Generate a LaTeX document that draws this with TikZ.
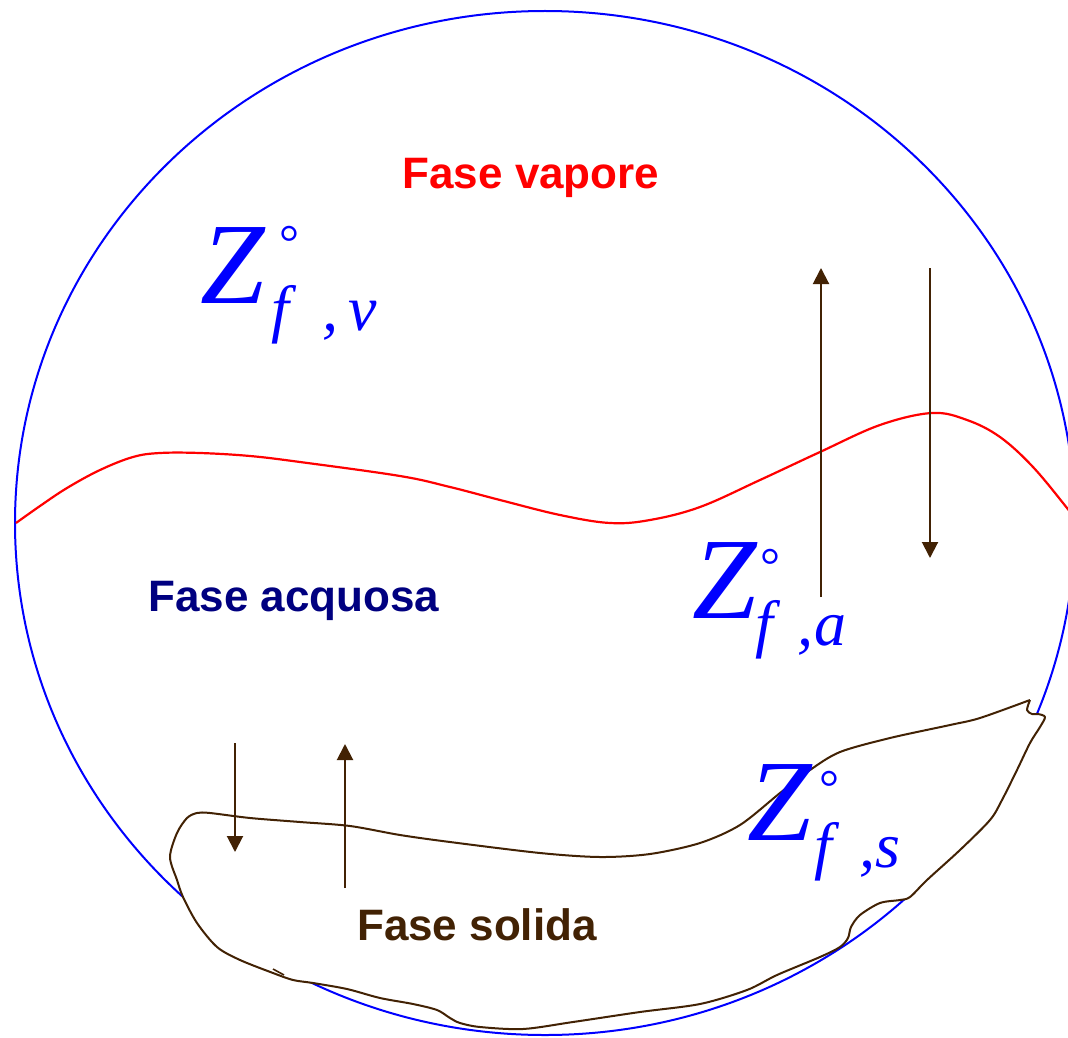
\documentclass[tikz,border=0pt]{standalone}
\usepackage{fontspec}
\setmainfont{Liberation Serif}
\newfontfamily\labfont{Liberation Sans}
\usetikzlibrary{arrows.meta}
\definecolor{brn}{RGB}{66,34,4}
\definecolor{navyc}{RGB}{0,0,128}
\definecolor{bluec}{RGB}{0,0,255}
\definecolor{redc}{RGB}{255,0,0}
% #1 kern before degree, #2 raise of degree, #3 kern before subscript, #4 kern f->comma, #5 kern comma->letter, #6 letter
\newcommand\zsym[6]{{\fontsize{116}{116}\selectfont\itshape Z}\kern#1\raisebox{#2}{\fontsize{50}{50}\selectfont\upshape °}\kern#3\raisebox{-27pt}{\fontsize{64}{64}\selectfont\itshape f\kern#4,\kern#5 #6}}
\tikzset{
  phase/.style={font=\labfont\bfseries\fontsize{44}{44}\selectfont, inner sep=0pt, anchor=base},
  zlab/.style={text=bluec, inner sep=0pt, anchor=base west},
  flux/.style={draw=brn, line width=2pt, -{Triangle[width=16pt,length=16pt]}},
}
\begin{document}
\begin{tikzpicture}[x=1pt,y=-1pt]
\useasboundingbox (0,0) rectangle (1068,1038);
% outer circle
\draw[bluec, line width=2pt] (545,523) ellipse [x radius=530, y radius=512];
% water surface
\draw[redc, line width=2.2pt] plot[smooth, tension=0.6] coordinates {
 (16,523) (40,506) (67,488) (100,470) (133,457) (160,453) (200,453) (250,456)
 (300,462) (400,476) (450,487) (500,500) (560,515) (610,523) (650,520) (700,507)
 (760,480) (820,452) (880,425) (932,413) (967,420) (1000,437) (1033,467) (1067,508) (1075,519)};
% solid phase (white filled, hides the circle behind it)
\draw[brn, fill=white, line width=2pt, line join=round] plot[smooth, tension=0.5] coordinates {
 (1030,700) (980,718) (950,725) (890,738) (840,752) (810,770) (780,793) (740,825)
 (700,843) (650,854) (600,857) (540,853) (450,842) (400,835) (350,826) (300,822)
 (250,818) (210,813) (197,813) (187,818) (177,833) (170,857) (177,880) (183,897)
 (197,923) (217,947) (240,960) (273,973) (293,980) (313,983) (347,989) (380,998)
 (413,1004) (437,1010) (450,1018) (460,1023) (480,1027) (523,1029) (573,1022)
 (640,1012) (700,1004) (747,990) (777,975) (820,957) (840,947) (848,938) (851,927)
 (860,915) (880,903) (900,900) (910,897) (927,880) (960,850) (990,820) (1002,800)
 (1017,770) (1030,743) (1040,727) (1045,717) (1038,714) (1032,714) (1027,710) (1030,700)};
\draw[brn, line width=1.6pt] (273,969) -- (284,975);
% labels
\node[phase, text=redc] (vap) at (531,188) {Fase vapore};
\node[phase, text=navyc] (acq) at (294,611) {Fase acquosa};
\node[phase, text=brn] (sol) at (477,940) {Fase solida};
\node[zlab] (zv) at (200,303) {\zsym{15pt}{44pt}{-28pt}{33pt}{10pt}{v}};
\node[zlab] (za) at (692,618) {\zsym{4pt}{36pt}{-25pt}{24pt}{1pt}{a}};
\node[zlab] (zs) at (747,840) {\zsym{8pt}{36pt}{-25pt}{27pt}{0pt}{s}};
% flux arrows
\coordinate (a1s) at (821,597); \coordinate (a1e) at (821,268);
\coordinate (a2s) at (930,268); \coordinate (a2e) at (930,558);
\coordinate (a3s) at (235,743); \coordinate (a3e) at (235,852);
\coordinate (a4s) at (345,888); \coordinate (a4e) at (345,744);
\draw[flux] (a1s) -- (a1e);
\draw[flux] (a2s) -- (a2e);
\draw[flux] (a3s) -- (a3e);
\draw[flux] (a4s) -- (a4e);
\end{tikzpicture}
\end{document}
